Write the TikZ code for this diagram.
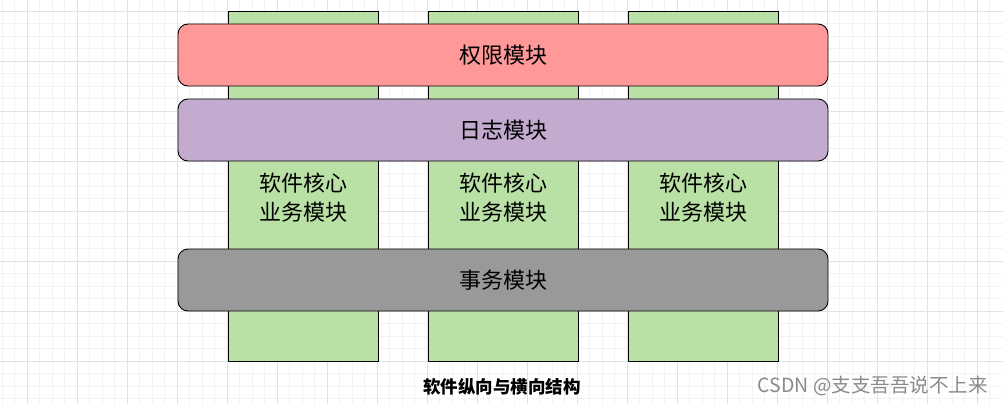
\documentclass[tikz,border=0pt]{standalone}
\usepackage{fontspec}
\newfontfamily\cjk{Noto Sans CJK SC}
\definecolor{verde}{HTML}{B9E0A5}
\definecolor{rojo}{HTML}{FF9999}
\definecolor{lila}{HTML}{C3ABD0}
\definecolor{gris}{HTML}{999999}
\definecolor{rejilla}{HTML}{E2E2E2}
\definecolor{rejillafina}{HTML}{F3F3F3}
\tikzset{
    columna/.style={draw=black,fill=verde,line width=0.9pt,minimum width=150pt,minimum height=350pt,inner sep=0pt},
    barra/.style={draw=black,line width=0.9pt,rounded corners=10pt,minimum width=650pt,minimum height=62pt,inner sep=0pt,font=\cjk\fontsize{22}{26}\selectfont},
    texto/.style={font=\cjk\fontsize{22}{29}\selectfont,align=center,inner sep=0pt}
}
\begin{document}
\begin{tikzpicture}[x=1pt,y=-1pt]
            \useasboundingbox (0,0) rectangle (1003,404);
            % Rejilla de fondo
            \foreach \i in {-1,...,79} {
                \draw[rejillafina,line width=0.6pt] (2+12.5*\i,0) -- (2+12.5*\i,404);
            }
            \foreach \i in {-1,...,32} {
                \draw[rejillafina,line width=0.6pt] (0,-1.5+12.5*\i) -- (1003,-1.5+12.5*\i);
            }
            \foreach \i in {0,...,19} {
                \draw[rejilla,line width=0.7pt] (27+50*\i,0) -- (27+50*\i,404);
            }
            \foreach \i in {0,...,8} {
                \draw[rejilla,line width=0.7pt] (0,11+50*\i) -- (1003,11+50*\i);
            }
            % Columnas verticales
            \foreach \n/\x in {1/303,2/503,3/703} {
                \node[columna] (col\n) at (\x,186) {};
                \node[texto] (txt\n) at (\x,198) {软件核心\\业务模块};
            }
            % Barras horizontales
            \node[barra,fill=rojo] (permiso) at (503,55) {权限模块};
            \node[barra,fill=lila] (registro) at (503,130) {日志模块};
            \node[barra,fill=gris] (transaccion) at (503,280) {事务模块};
            % Titulo
            \node[font=\cjk\bfseries\fontsize{17.5}{20}\selectfont,inner sep=0pt] (titulo) at (502,387) {软件纵向与横向结构};
            \node[font=\cjk\fontsize{19.5}{22}\selectfont,text=gris!90!black,inner sep=0pt,anchor=east] (marca) at (988,386) {CSDN @支支吾吾说不上来};
\end{tikzpicture}
\end{document}
